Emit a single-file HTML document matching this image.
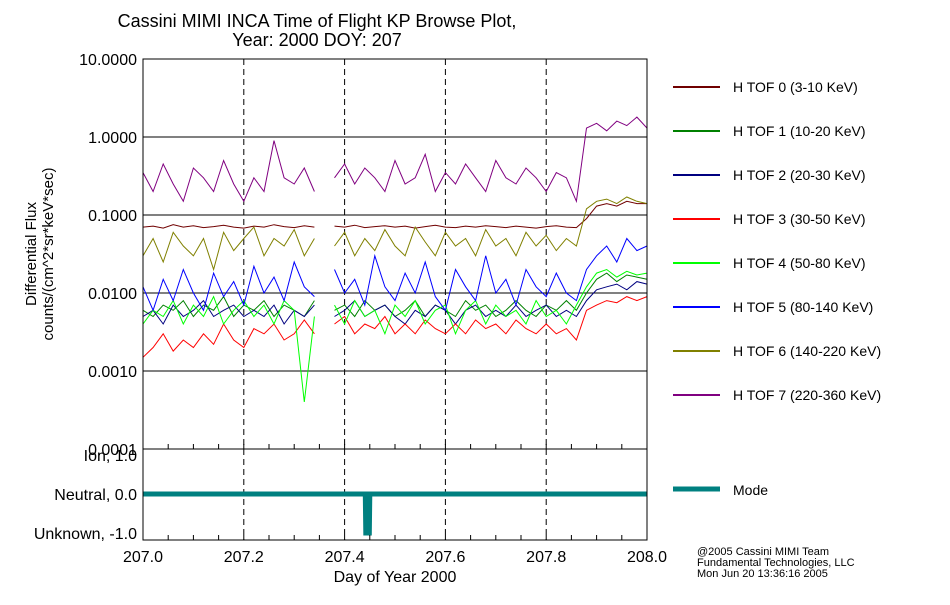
<!DOCTYPE html>
<html><head><meta charset="utf-8"><style>
body{margin:0;background:#fff;}
svg text{font-family:"Liberation Sans",sans-serif;fill:#000;}
</style></head><body>
<svg id="chart" width="950" height="600" xmlns="http://www.w3.org/2000/svg">
<rect width="950" height="600" fill="#fff"/>
<text x="317" y="27" font-size="18" text-anchor="middle">Cassini MIMI INCA Time of Flight KP Browse Plot,</text>
<text x="317" y="46" font-size="18" text-anchor="middle">Year: 2000 DOY: 207</text>
<g id="grid"></g>
<g id="series"></g>
<g id="axes"></g>
<g id="legend"></g>
<text transform="translate(36,254) rotate(-90)" font-size="15" text-anchor="middle">Differential Flux</text>
<text transform="translate(53,254) rotate(-90)" font-size="15" text-anchor="middle">counts/(cm^2*sr*keV*sec)</text>
<text x="395" y="582" font-size="16" text-anchor="middle">Day of Year 2000</text>
<text x="697" y="555" font-size="11">@2005 Cassini MIMI Team</text>
<text x="697" y="566" font-size="11">Fundamental Technologies, LLC</text>
<text x="697" y="577" font-size="11">Mon Jun 20 13:36:16 2005</text>
</svg>
<script>
const names=["H TOF 0 (3-10 KeV)","H TOF 1 (10-20 KeV)","H TOF 2 (20-30 KeV)","H TOF 3 (30-50 KeV)","H TOF 4 (50-80 KeV)","H TOF 5 (80-140 KeV)","H TOF 6 (140-220 KeV)","H TOF 7 (220-360 KeV)"];
const colors=["#700000","#008000","#000080","#ff0000","#00ff00","#0000ff","#808000","#800080"];
const yTicks=[10,1,0.1,0.01,0.001,0.0001];
const yTickLabels=["10.0000","1.0000","0.1000","0.0100","0.0010","0.0001"];
const xTicks=[207.0,207.2,207.4,207.6,207.8,208.0];
const xTickLabels=["207.0","207.2","207.4","207.6","207.8","208.0"];
const modeTicks=[1,0,-1];
const modeTickLabels=["Ion, 1.0","Neutral, 0.0","Unknown, -1.0"];
const tof0=[0.07,0.072,0.068,0.075,0.07,0.073,0.069,0.071,0.074,0.07,0.068,0.072,0.07,0.075,0.071,0.069,0.073,0.07,null,0.072,0.07,0.074,0.069,0.071,0.073,0.07,0.072,0.068,0.071,0.074,0.07,0.069,0.072,0.07,0.073,0.071,0.069,0.072,0.07,0.068,0.071,0.073,0.07,0.069,0.09,0.13,0.14,0.13,0.15,0.14,0.14];
const tof1=[0.006,0.005,0.007,0.006,0.008,0.005,0.007,0.006,0.009,0.005,0.007,0.006,0.008,0.005,0.007,0.006,0.005,0.008,null,0.006,0.007,0.005,0.008,0.006,0.007,0.005,0.006,0.008,0.005,0.007,0.006,0.005,0.008,0.006,0.007,0.005,0.006,0.008,0.006,0.005,0.007,0.006,0.008,0.006,0.01,0.015,0.018,0.014,0.017,0.016,0.015];
const tof2=[0.005,0.006,0.004,0.007,0.005,0.006,0.008,0.005,0.006,0.007,0.005,0.006,0.005,0.007,0.004,0.006,0.005,0.007,null,0.005,0.006,0.008,0.005,0.006,0.007,0.005,0.004,0.006,0.005,0.007,0.006,0.004,0.006,0.007,0.005,0.006,0.005,0.007,0.005,0.006,0.007,0.005,0.006,0.005,0.008,0.011,0.012,0.013,0.011,0.014,0.013];
const tof3=[0.0015,0.002,0.003,0.0018,0.0025,0.002,0.003,0.0022,0.004,0.0025,0.002,0.0035,0.003,0.004,0.0025,0.003,0.0045,0.003,null,0.004,0.005,0.003,0.004,0.0035,0.005,0.003,0.004,0.003,0.0045,0.0035,0.003,0.004,0.003,0.0045,0.0035,0.004,0.003,0.0045,0.0035,0.003,0.004,0.003,0.0035,0.0025,0.006,0.007,0.008,0.0075,0.009,0.008,0.009];
const tof4=[0.004,0.006,0.005,0.008,0.004,0.007,0.005,0.009,0.004,0.006,0.008,0.005,0.007,0.004,0.008,0.006,0.0004,0.005,null,0.007,0.004,0.008,0.005,0.006,0.003,0.007,0.005,0.008,0.004,0.006,0.007,0.003,0.006,0.008,0.004,0.007,0.005,0.006,0.004,0.008,0.005,0.006,0.004,0.007,0.012,0.018,0.02,0.016,0.019,0.017,0.018];
const tof5=[0.012,0.006,0.015,0.008,0.02,0.01,0.006,0.018,0.009,0.014,0.007,0.022,0.01,0.016,0.008,0.025,0.012,0.009,null,0.02,0.01,0.015,0.007,0.03,0.012,0.008,0.018,0.01,0.025,0.009,0.006,0.02,0.012,0.008,0.03,0.01,0.015,0.007,0.02,0.012,0.009,0.018,0.01,0.008,0.02,0.03,0.04,0.025,0.05,0.035,0.04];
const tof6=[0.03,0.05,0.025,0.06,0.04,0.03,0.05,0.02,0.06,0.035,0.05,0.07,0.03,0.05,0.04,0.065,0.03,0.05,null,0.04,0.06,0.03,0.05,0.035,0.065,0.04,0.03,0.07,0.045,0.03,0.06,0.04,0.05,0.03,0.065,0.04,0.05,0.03,0.06,0.04,0.055,0.035,0.05,0.04,0.12,0.15,0.16,0.14,0.17,0.15,0.14];
const tof7=[0.35,0.2,0.45,0.25,0.15,0.4,0.3,0.2,0.5,0.25,0.15,0.3,0.2,0.9,0.3,0.25,0.4,0.2,null,0.3,0.45,0.25,0.4,0.3,0.2,0.5,0.25,0.3,0.6,0.2,0.35,0.25,0.45,0.3,0.2,0.5,0.3,0.25,0.4,0.3,0.2,0.35,0.3,0.15,1.3,1.5,1.2,1.6,1.4,1.8,1.3];
const series=[tof0,tof1,tof2,tof3,tof4,tof5,tof6,tof7];
const modeTimes=[207.0,207.441,207.442,207.449,207.45,208.0];
const modeValues=[0,0,-1,-1,0,0];

const NS="http://www.w3.org/2000/svg";
const X0=143,X1=647,Y0=59,Y1=449,MY0=449,MY1=540;
const xs=d=>X0+(d-207)*(X1-X0);
const ys=v=>Y1-(Math.log10(v)+4)*(Y1-Y0)/5;
const ms=v=>494-v*39;
function mk(tag,parent,attrs){const e=document.createElementNS(NS,tag);for(const k in attrs)e.setAttribute(k,attrs[k]);document.getElementById(parent).appendChild(e);return e;}

yTicks.forEach((t,i)=>{
 const g=mk('line','grid',{x1:X0,x2:X1,y1:ys(t),y2:ys(t),stroke:'#000','stroke-width':1});
 
 
 const l=mk('text','axes',{x:137,y:ys(t)+6,'font-size':16,'text-anchor':'end'});
 l.textContent=yTickLabels[i];
 
 
});
xTicks.forEach((t,i)=>{
 if(i>0&&i<xTicks.length-1){
  const g=mk('line','grid',{x1:xs(t),x2:xs(t),y1:Y0,y2:MY1,stroke:'#000','stroke-dasharray':'6,4','stroke-width':1});
  
  
 }
 const l=mk('text','axes',{x:xs(t),y:562,'font-size':16,'text-anchor':'middle'});
 l.textContent=xTickLabels[i];
 
 
});
for(let i=1;i<20;i++){
 const t=207+i*0.05;
 [MY0,MY1].forEach(yy=>{
  const tk=mk('line','axes',{x1:xs(t),x2:xs(t),y1:yy,y2:yy-5,stroke:'#000'});
  
  
 });
}
modeTicks.forEach((t,i)=>{
 const l=mk('text','axes',{x:137,y:ms(t)+6,'font-size':16,'text-anchor':'end'});
 l.textContent=modeTickLabels[i];
 
 
});
series.forEach((s,k)=>{
 let d='',pen=false;
 s.forEach((v,i)=>{const t=207+i/(s.length-1);if(v==null){pen=false;return;}d+=(pen?'L':'M')+xs(t).toFixed(1)+','+ys(v).toFixed(1);pen=true;});
 const p=mk('path','series',{d:d,fill:'none',stroke:colors[k],'stroke-width':1});
 
 
 const ly=87+k*44;
 const ll=mk('line','legend',{x1:673,x2:720,y1:ly,y2:ly,stroke:colors[k],'stroke-width':2});
 
 
 const lt=mk('text','legend',{x:733,y:ly+5,'font-size':14});
 lt.textContent=names[k];
 
 
});
let md='';
modeTimes.forEach((t,i)=>{md+=(i?'L':'M')+xs(t).toFixed(1)+','+ms(modeValues[i]).toFixed(1);});
const mp=mk('path','series',{d:md,fill:'none',stroke:'#008080','stroke-width':5});


const ml=mk('line','legend',{x1:673,x2:720,y1:489,y2:489,stroke:'#008080','stroke-width':5});


const mt=mk('text','legend',{x:733,y:495,'font-size':14});
mt.textContent='Mode';


const b1=mk('rect','axes',{x:X0,y:Y0,width:X1-X0,height:Y1-Y0,fill:'none',stroke:'#000'});


const b2=mk('rect','axes',{x:X0,y:MY0,width:X1-X0,height:MY1-MY0,fill:'none',stroke:'#000'});


</script>
</body></html>
